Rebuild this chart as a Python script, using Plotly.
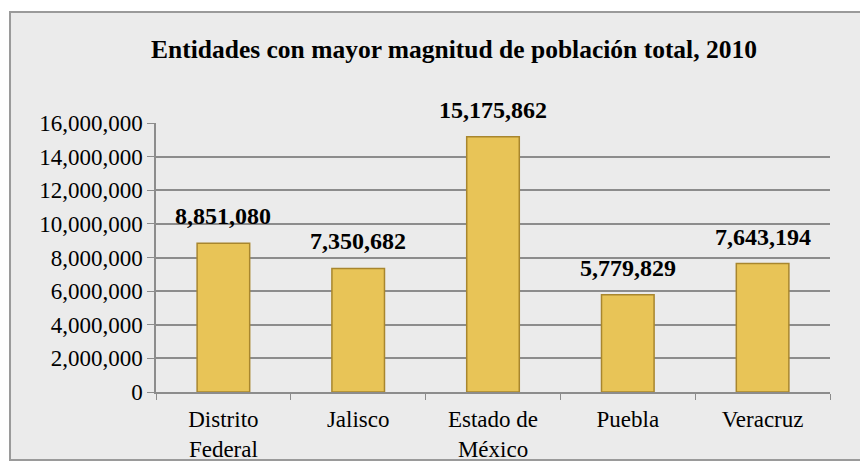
import plotly.graph_objs as go

# data
entidades = ['Distrito<br>Federal', 'Jalisco', 'Estado de<br>México', 'Puebla', 'Veracruz']
poblacion = [8851080, 7350682, 15175862, 5779829, 7643194]
y_ticks = list(range(0, 16000001, 2000000))

serif = 'Liberation Serif, Times New Roman, serif'
gold = '#E8C457'

fig = go.Figure()
fig.add_trace(go.Bar(x=entidades, y=poblacion, width=0.39,
                     marker=dict(color=gold, line=dict(color='#A8862E', width=1.5))))

# value labels above the bars
for name, val in zip(entidades, poblacion):
    fig.add_annotation(x=name, y=val, text='<b>{:,}</b>'.format(val), showarrow=False,
                       yanchor='bottom', yshift=12, font=dict(family=serif, size=24, color='black'))

# marble-ish frame
fig.add_shape(type='rect', xref='paper', yref='paper', x0=-0.2166, x1=1.053, y0=-0.253, y1=1.4126,
              fillcolor='#ebebeb', line=dict(color='#9a9a9a', width=2), layer='below')

# page body adds an 8px margin, so the figure is 860x456
fig.update_layout(
    width=860, height=456,
    margin=dict(l=148, r=38, t=115, b=72),
    paper_bgcolor='white', plot_bgcolor='rgba(0,0,0,0)',
    showlegend=False,
    title=dict(text='<b>Entidades con mayor magnitud de población total, 2010</b>',
               x=0.5186, xanchor='center', y=0.91, yanchor='middle',
               font=dict(family=serif, size=25.5, color='black')),
    font=dict(family=serif, size=23, color='black'),
)
fig.update_yaxes(range=[0, 16000000], tickvals=y_ticks, tickformat=',d', automargin=False,
                 showgrid=True, gridcolor='#8c8c8c', gridwidth=1.5,
                 showline=True, linecolor='#8c8c8c', linewidth=1.5,
                 ticks='outside', ticklen=7, tickcolor='#8c8c8c', zeroline=False)
fig.update_xaxes(showline=True, linecolor='#8c8c8c', linewidth=1.5, ticklabelstandoff=6, automargin=False,
                 ticks='outside', tickson='boundaries', ticklen=6, tickcolor='#8c8c8c')

fig.write_html('out.html')
